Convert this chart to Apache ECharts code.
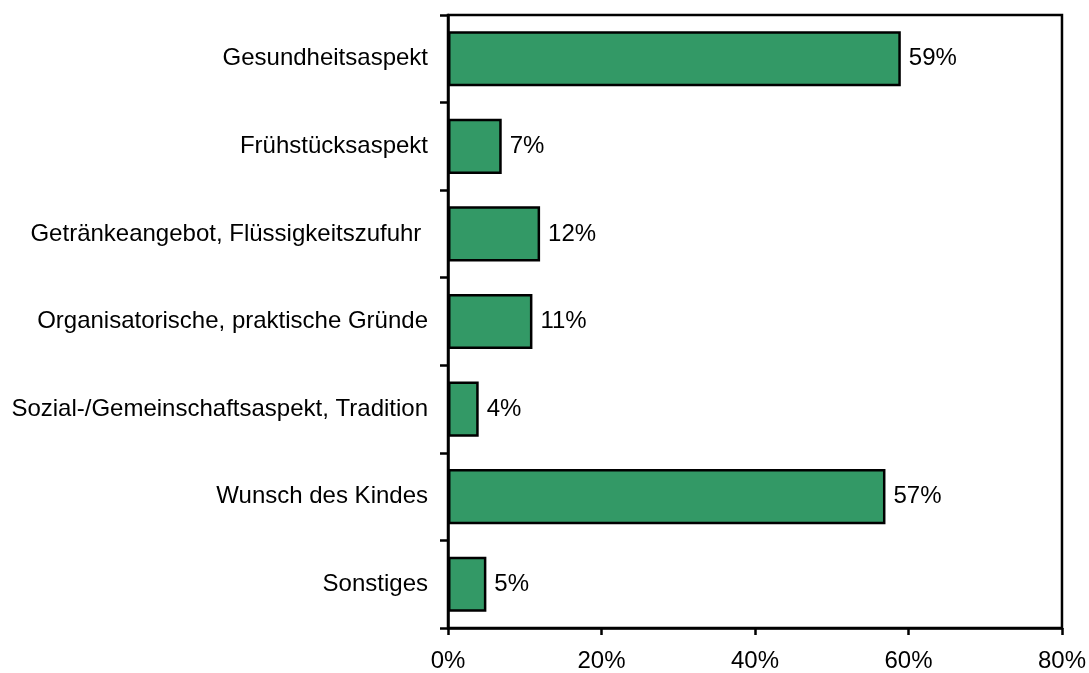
<!doctype html>
<html lang="de">
<head>
    <meta charset="UTF-8">
    <title>Gründe</title>
    <script src="https://cdn.jsdelivr.net/npm/echarts@6/dist/echarts.min.js"></script>
    <style>
        html, body { margin: 0; padding: 0; background: #fff; }
        #main { width: 1089px; height: 673px; }
    </style>
</head>
<body>
<div id="main"></div>
<script>
    var categories = ['Gesundheitsaspekt', 'Frühstücksaspekt', 'Getränkeangebot, Flüssigkeitszufuhr ',
        'Organisatorische, praktische Gründe', 'Sozial-/Gemeinschaftsaspekt, Tradition',
        'Wunsch des Kindes', 'Sonstiges'];
    var values = [59, 7, 12, 11, 4, 57, 5];
    var xTicks = { min: 0, max: 80, interval: 20 };

    var font = 'Liberation Sans, Arial, sans-serif';
    var myChart = echarts.init(document.getElementById('main'));
    var option = {
        animation: false,
        grid: {
            left: 448, right: 27, top: 15, bottom: 44,
            show: true, borderColor: '#000', borderWidth: 2.5
        },
        xAxis: {
            type: 'value',
            min: xTicks.min,
            max: xTicks.max,
            interval: xTicks.interval,
            axisLine: { show: true, lineStyle: { color: '#000', width: 2.5 } },
            axisTick: { show: true, length: 7, lineStyle: { color: '#000', width: 2.5 } },
            splitLine: { show: false },
            axisLabel: { formatter: '{value}%', color: '#000', fontSize: 24, fontFamily: font, margin: 21 }
        },
        yAxis: {
            type: 'category',
            inverse: true,
            data: categories,
            axisLine: { show: true, lineStyle: { color: '#000', width: 2.5 } },
            axisTick: { show: true, length: 8, lineStyle: { color: '#000', width: 2.5 } },
            axisLabel: { color: '#000', fontSize: 24, fontFamily: font, margin: 20 }
        },
        series: [{
            type: 'bar',
            data: values,
            barCategoryGap: '37%',
            itemStyle: { color: '#339966', borderColor: '#000', borderWidth: 2.5 },
            label: {
                show: true, position: 'right', distance: 8,
                formatter: '{c}%', color: '#000', fontSize: 24, fontFamily: font
            }
        }]
    };
    myChart.setOption(option);
</script>
</body>
</html>
